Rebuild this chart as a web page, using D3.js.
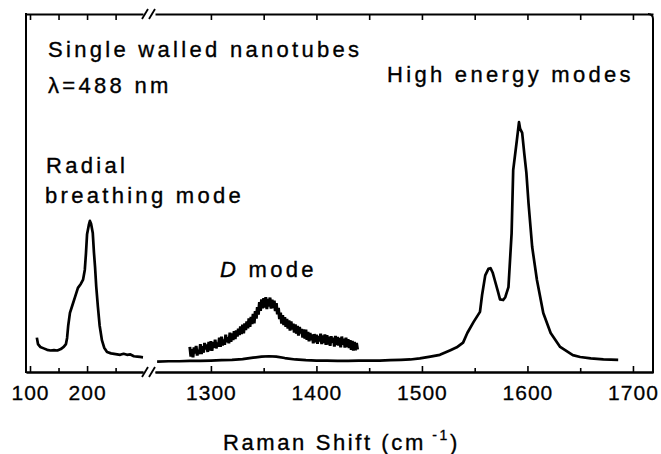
<!DOCTYPE html>
<html>
<head>
<meta charset="utf-8">
<script src="https://cdn.jsdelivr.net/npm/d3@7"></script>
<style>
  html, body { margin: 0; padding: 0; background: #fff; }
  svg { display: block; }
  text { font-family: "Liberation Sans", Arial, sans-serif; fill: #000; }
</style>
</head>
<body>
<svg id="chart" width="661" height="454"></svg>
<script>
// Radial breathing mode (low-wavenumber segment), cm^-1 and intensity (a.u.)
const rbmShift = [112, 114, 118, 124, 130, 136, 142, 148, 154, 159, 163, 165, 167, 170, 174, 179, 184, 189, 193, 196, 198, 200, 203, 205, 207, 210, 212, 214, 216, 219, 222, 226, 230, 235, 242, 250, 258, 264, 270, 276, 282, 288, 293, 298];
const rbmIntensity = [9.6, 7.8, 7.0, 6.6, 6.2, 6.0, 6.1, 6.0, 6.4, 7.0, 7.8, 9.5, 13.0, 16.5, 18.5, 21.0, 23.5, 24.6, 25.8, 28.5, 33.0, 38.5, 41.0, 42.2, 41.4, 38.8, 33.5, 29.3, 24.0, 18.2, 13.0, 8.9, 6.8, 5.6, 5.2, 5.0, 4.8, 5.1, 4.8, 4.9, 4.4, 4.3, 4.2, 4.1];

// High-wavenumber spectrum: weak D band on the baseline, then the G band
const gShift = [1249, 1260, 1270, 1280, 1290, 1300, 1310, 1320, 1330, 1340, 1348, 1355, 1362, 1370, 1380, 1390, 1400, 1410, 1420, 1430, 1440, 1450, 1460, 1470, 1480, 1489, 1498, 1508, 1517, 1527, 1533, 1539, 1543, 1549, 1555, 1557, 1560, 1563, 1565, 1567, 1569, 1572, 1574, 1577, 1579, 1582, 1585, 1586.5, 1590, 1592, 1593, 1595, 1597, 1599, 1601, 1604.5, 1609, 1615, 1622, 1631, 1643, 1650, 1660, 1672, 1686];
const gIntensity = [2.9, 3.0, 3.0, 3.1, 3.1, 3.2, 3.3, 3.4, 3.6, 4.0, 4.3, 4.4, 4.3, 3.9, 3.5, 3.3, 3.2, 3.2, 3.1, 3.1, 3.2, 3.2, 3.2, 3.3, 3.4, 3.5, 3.8, 4.3, 4.8, 6.1, 6.9, 8.2, 10.9, 14.0, 16.8, 21.5, 27.0, 28.8, 29.0, 27.8, 25.7, 22.5, 20.3, 20.1, 20.9, 23.7, 38.8, 56.4, 64.8, 69.8, 68.0, 66.8, 61.0, 55.6, 47.2, 34.9, 25.7, 16.5, 10.9, 7.0, 4.7, 4.2, 3.8, 3.5, 3.4];

// Magnified D band trace, one sample per cm^-1 starting at 1280 cm^-1
const dModeStart = 1280;
const dModeIntensity = [
  7.0, 4.3, 6.4, 4.1, 6.9, 5.2, 7.3, 4.6, 6.2, 5.0,
  7.8, 5.0, 7.2, 5.4, 8.1, 6.3, 7.7, 5.6, 8.4, 6.0,
  8.6, 5.9, 8.3, 6.8, 9.0, 6.6, 8.2, 7.1, 9.6, 7.0,
  9.9, 7.4, 9.1, 7.6, 10.4, 8.3, 9.7, 8.0, 11.0, 8.4,
  10.8, 8.9, 11.4, 9.2, 11.6, 9.9, 12.1, 10.3, 12.7, 10.6,
  13.2, 10.8, 13.6, 11.7, 14.1, 12.2, 15.0, 12.6, 15.4, 13.4,
  16.2, 13.6, 17.0, 14.9, 18.1, 16.0, 19.5, 17.1, 20.3, 17.8,
  20.6, 18.0, 20.9, 17.6, 20.4, 18.3, 20.8, 17.7, 20.2, 17.9,
  19.9, 17.0, 19.2, 16.1, 17.9, 14.8, 16.6, 13.5, 15.9, 13.1,
  15.3, 12.6, 14.8, 12.1, 14.4, 11.6, 14.1, 11.9, 13.5, 11.0,
  13.3, 10.7, 12.9, 10.2, 12.6, 10.8, 12.0, 9.6, 11.9, 9.3,
  11.8, 9.0, 11.2, 8.6, 10.9, 8.9, 10.5, 8.0, 10.6, 8.3,
  10.4, 7.9, 10.1, 8.5, 10.7, 7.8, 10.2, 8.1, 10.5, 7.6,
  10.3, 7.7, 9.9, 7.3, 10.0, 8.2, 9.6, 7.1, 10.1, 7.5,
  9.8, 7.4, 9.5, 6.9, 9.9, 7.6, 9.3, 6.8, 9.6, 7.0,
  9.2, 6.7, 8.9, 6.2, 8.7, 6.0, 8.4, 6.1, 8.1, 6.3
];

// Axis ticks for the two segments of the broken x axis
const lowMajorTicks = [100, 200];
const lowMinorTicks = [150, 250];
const highMajorTicks = [1300, 1400, 1500, 1600, 1700];
const highMinorTicks = [1350, 1450, 1550, 1650];

const svg = d3.select("#chart");

const frame = { left: 26, right: 653, top: 14, bottom: 372, breakL: 143, breakR: 155 };

const xLow = d3.scaleLinear().domain([93, 298]).range([frame.left, frame.breakL]);
const xHigh = d3.scaleLinear().domain([1247, 1719]).range([frame.breakR, frame.right]);
const y = d3.scaleLinear().domain([0, 100]).range([frame.bottom, frame.top]);

// ---- axes ----
function styleAxis(g) {
  g.select(".domain").attr("stroke", "#000").attr("stroke-width", 2);
  g.selectAll(".tick line").attr("stroke", "#000").attr("stroke-width", 1.6);
  g.selectAll(".tick text")
    .attr("font-size", 21)
    .attr("letter-spacing", "1px")
    .attr("font-family", "'Liberation Sans', Arial, sans-serif")
    .attr("fill", "#000")
    .attr("stroke", "#000")
    .attr("stroke-width", 0.3);
}

function addAxes(scale, major, minor) {
  svg.append("g")
    .attr("transform", `translate(0,${frame.bottom})`)
    .call(d3.axisBottom(scale).tickValues(major).tickSizeInner(-6).tickSizeOuter(0)
      .tickPadding(13).tickFormat(d3.format("d")))
    .call(styleAxis);
  svg.append("g")
    .attr("transform", `translate(0,${frame.bottom})`)
    .call(d3.axisBottom(scale).tickValues(minor).tickSizeInner(-4).tickSizeOuter(0).tickFormat(""))
    .call(styleAxis);
  svg.append("g")
    .attr("transform", `translate(0,${frame.top})`)
    .call(d3.axisTop(scale).tickValues(major.concat(minor)).tickSizeInner(-6).tickSizeOuter(0).tickFormat(""))
    .call(styleAxis);
}
addAxes(xLow, lowMajorTicks, lowMinorTicks);
addAxes(xHigh, highMajorTicks, highMinorTicks);

// vertical frame edges
svg.append("line").attr("x1", frame.left).attr("x2", frame.left)
  .attr("y1", frame.top - 1).attr("y2", frame.bottom + 1)
  .attr("stroke", "#000").attr("stroke-width", 2);
svg.append("path")
  .attr("d", `M${frame.right - 5},${frame.top} Q${frame.right},${frame.top} ${frame.right},${frame.top + 5} L${frame.right},${frame.bottom + 1}`)
  .attr("fill", "none").attr("stroke", "#000").attr("stroke-width", 2);

// break marks "//" on top and bottom edges
[frame.top, frame.bottom].forEach(yy => {
  [frame.breakL - 1, frame.breakL + 6].forEach(x0 => {
    svg.append("line")
      .attr("x1", x0).attr("y1", yy + 5)
      .attr("x2", x0 + 6).attr("y2", yy - 5)
      .attr("stroke", "#000").attr("stroke-width", 1.8);
  });
});

// ---- spectra ----
const lineLow = d3.line().x(d => xLow(d[0])).y(d => y(d[1]));
const lineHigh = d3.line().x(d => xHigh(d[0])).y(d => y(d[1]));

svg.append("path")
  .datum(rbmShift.map((s, i) => [s, rbmIntensity[i]]))
  .attr("d", lineLow)
  .attr("fill", "none").attr("stroke", "#000").attr("stroke-width", 2.7)
  .attr("stroke-linejoin", "round");

svg.append("path")
  .datum(gShift.map((s, i) => [s, gIntensity[i]]))
  .attr("d", lineHigh)
  .attr("fill", "none").attr("stroke", "#000").attr("stroke-width", 2.7)
  .attr("stroke-linejoin", "round");

svg.append("path")
  .datum(dModeIntensity.map((v, i) => [dModeStart + i, v]))
  .attr("d", lineHigh)
  .attr("fill", "none").attr("stroke", "#000").attr("stroke-width", 3);

// ---- annotations ----
function label(x, yy, parts, spacing) {
  const t = svg.append("text")
    .attr("x", x).attr("y", yy)
    .attr("font-size", 22)
    .attr("letter-spacing", (spacing || 3.3) + "px")
    .attr("stroke", "#000")
    .attr("stroke-width", 0.35);
  parts.forEach(p => {
    const ts = t.append("tspan").text(p.text);
    if (p.italic) ts.attr("font-style", "italic");
    if (p.sup) ts.attr("font-size", 14).attr("dy", -10);
    if (p.down) ts.attr("dy", 10);
  });
  return t;
}

label(48, 57, [{ text: "Single walled nanotubes" }]);
label(48, 93, [{ text: "λ=488 nm" }]);
label(46, 173, [{ text: "Radial" }]);
label(45, 203, [{ text: "breathing mode" }]);
label(220, 277, [{ text: "D", italic: true }, { text: " mode" }]);
label(387, 82, [{ text: "High energy modes" }]);
label(223, 450, [{ text: "Raman Shift (cm" }, { text: " -1", sup: true }, { text: ")", down: true }], 2.6);
</script>
</body>
</html>
